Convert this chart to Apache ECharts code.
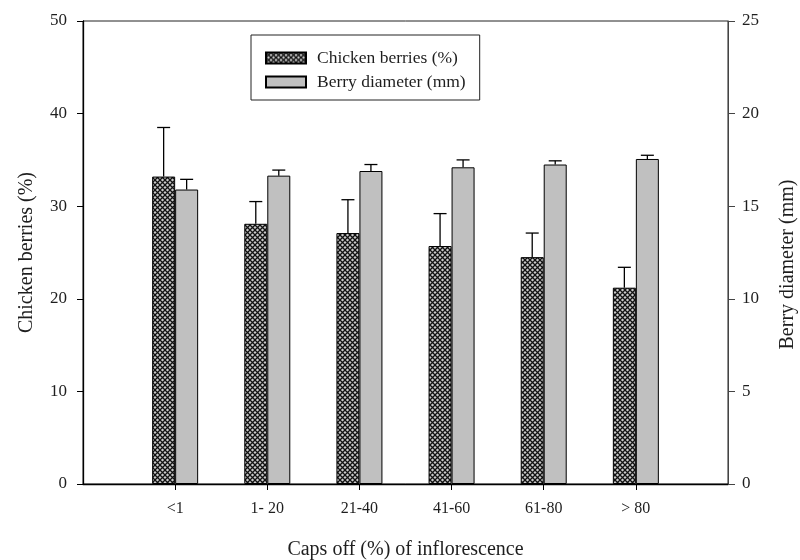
<!DOCTYPE html>
<html>
<head>
<meta charset="utf-8">
<script src="https://cdn.jsdelivr.net/npm/echarts@6/dist/echarts.min.js"></script>
<style>html,body{margin:0;padding:0;background:#fff;}#c{width:800px;height:560px;}</style>
</head>
<body>
<div id="c"></div>
<script>
// Data
const categories = ['', '<1', '1- 20', '21-40', '41-60', '61-80', '> 80', ''];
const chickenBerries = [33.2, 28.1, 27.1, 25.7, 24.5, 21.2];      // %
const chickenErr = [5.3, 2.4, 3.6, 3.5, 2.6, 2.2];
const berryDiameter = [15.9, 16.65, 16.9, 17.1, 17.25, 17.55];    // mm
const berryErr = [0.55, 0.3, 0.35, 0.4, 0.2, 0.2];
const leftTicks = { min: 0, max: 50, interval: 10 };
const rightTicks = { min: 0, max: 25, interval: 5 };

const FONT = 'Liberation Serif';
const TXT = '#1e1e1e';

// hatch pattern for chicken berries
const tile = document.createElement('canvas');
tile.width = 5; tile.height = 5;
const g = tile.getContext('2d');
g.fillStyle = '#cacaca';
g.fillRect(0, 0, 5, 5);
g.strokeStyle = '#121212';
g.lineWidth = 1.3;
g.beginPath();
g.moveTo(0, 0); g.lineTo(5, 5);
g.moveTo(5, 0); g.lineTo(0, 5);
g.stroke();

function pad(arr) { return ['-'].concat(arr, ['-']); }
function errData(vals, errs) { return vals.map((v, i) => [i + 1, v, errs[i]]); }

function errRender(offset) {
  return function (params, api) {
    const x = api.value(0), v = api.value(1), e = api.value(2);
    const b = api.coord([x, v]);
    const t = api.coord([x, v + e]);
    const cx = b[0] + offset;
    const st = { stroke: '#000', lineWidth: 1.3 };
    return {
      type: 'group',
      children: [
        { type: 'line', shape: { x1: cx, y1: b[1], x2: cx, y2: t[1] }, style: st },
        { type: 'line', shape: { x1: cx - 6.5, y1: t[1], x2: cx + 6.5, y2: t[1] }, style: st }
      ]
    };
  };
}

const chart = echarts.init(document.getElementById('c'), null, { renderer: 'canvas' });
chart.setOption({
  animation: false,
  backgroundColor: '#fff',
  grid: { left: 83, right: 72, top: 21, bottom: 76, show: true, borderColor: '#222', borderWidth: 1,
          outerBoundsMode: 'none', containLabel: false },
  legend: {
    data: ['Chicken berries (%)', 'Berry diameter (mm)'],
    orient: 'vertical',
    left: 251, top: 35,
    padding: [14, 14, 9, 14],
    icon: 'rect',
    itemWidth: 40, itemHeight: 11, itemGap: 6,
    borderColor: '#222', borderWidth: 1,
    textStyle: { fontFamily: FONT, fontSize: 17.5, color: TXT, padding: [0, 0, 0, 6] }
  },
  xAxis: {
    type: 'category',
    data: categories,
    boundaryGap: false,
    name: 'Caps off (%) of inflorescence',
    nameLocation: 'middle',
    nameGap: 56,
    nameTextStyle: { fontFamily: FONT, fontSize: 20, color: TXT },
    axisLine: { lineStyle: { color: '#000', width: 1.3 } },
    axisTick: { length: 6, lineStyle: { color: '#000' },
      interval: function (i) { return i > 0 && i < categories.length - 1; } },
    axisLabel: { interval: 0, margin: 17, fontFamily: FONT, fontSize: 16, color: TXT },
    splitLine: { show: false }
  },
  yAxis: [
    {
      type: 'value', min: leftTicks.min, max: leftTicks.max, interval: leftTicks.interval,
      name: 'Chicken berries (%)', nameLocation: 'middle', nameGap: 46, nameRotate: 90,
      nameTextStyle: { fontFamily: FONT, fontSize: 20, color: TXT },
      axisLine: { show: true, lineStyle: { color: '#000', width: 1.3 } },
      axisTick: { show: true, length: 6, lineStyle: { color: '#000' } },
      axisLabel: { margin: 16, fontFamily: FONT, fontSize: 17, color: TXT },
      splitLine: { show: false }
    },
    {
      type: 'value', min: rightTicks.min, max: rightTicks.max, interval: rightTicks.interval,
      position: 'right',
      name: 'Berry diameter (mm)', nameLocation: 'middle', nameGap: 50, nameRotate: 90,
      nameTextStyle: { fontFamily: FONT, fontSize: 20, color: TXT, padding: [0, 24, 0, 0] },
      axisLine: { show: true, lineStyle: { color: '#444', width: 1 } },
      axisTick: { show: true, length: 7, lineStyle: { color: '#444' } },
      axisLabel: { margin: 14, fontFamily: FONT, fontSize: 17, color: TXT },
      splitLine: { show: false }
    }
  ],
  series: [
    {
      name: 'Chicken berries (%)', type: 'bar', yAxisIndex: 0,
      data: pad(chickenBerries), barWidth: 23, barGap: '0%',
      itemStyle: { color: { image: tile, repeat: 'repeat' }, borderColor: '#000', borderWidth: 1 }
    },
    {
      name: 'Berry diameter (mm)', type: 'bar', yAxisIndex: 1,
      data: pad(berryDiameter), barWidth: 23, barGap: '0%',
      itemStyle: { color: '#c0c0c0', borderColor: '#000', borderWidth: 1 }
    },
    {
      name: 'errC', type: 'custom', yAxisIndex: 0, z: 3,
      data: errData(chickenBerries, chickenErr), renderItem: errRender(-11.5)
    },
    {
      name: 'errB', type: 'custom', yAxisIndex: 1, z: 3,
      data: errData(berryDiameter, berryErr), renderItem: errRender(11.5)
    }
  ]
});
</script>
</body>
</html>
